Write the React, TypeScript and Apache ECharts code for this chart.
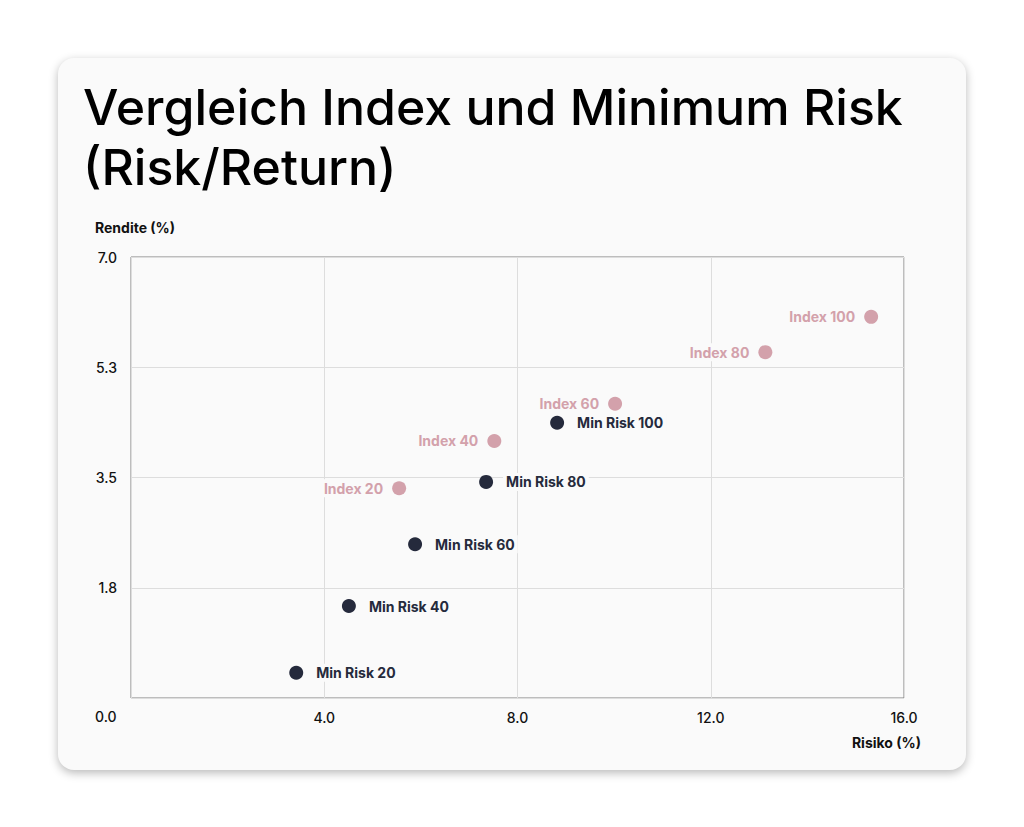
import React, { useEffect, useRef } from "react";
import * as echarts from "echarts";

const titleLines = ["Vergleich Index und Minimum Risk", "(Risk/Return)"];
const xTicks = [0, 4, 8, 12, 16];
const yTicks = [0, 1.75, 3.5, 5.25, 7];
const indexNames = ["Index 20", "Index 40", "Index 60", "Index 80", "Index 100"];
const indexRisk = [5.55, 7.52, 10.02, 13.13, 15.32];
const indexReturn = [3.33, 4.08, 4.67, 5.49, 6.05];
const minNames = ["Min Risk 20", "Min Risk 40", "Min Risk 60", "Min Risk 80", "Min Risk 100"];
const minRisk = [3.42, 4.51, 5.88, 7.35, 8.82];
const minReturn = [0.4, 1.46, 2.44, 3.43, 4.37];

const FONT = "Inter, 'Noto Sans', sans-serif";
const PINK = "#d3a1ab";
const NAVY = "#252a3c";
const CARD = "#fafafa";

export default function App() {
  const ref = useRef<HTMLDivElement>(null);
  useEffect(() => {
    if (!ref.current) return;
    const chart = echarts.init(ref.current, undefined, { renderer: "svg" });
    chart.setOption({
      animation: false,
      textStyle: { fontFamily: FONT },
      title: {
        text: titleLines.join("\n"),
        left: 20,
        top: 14,
        textStyle: {
          fontFamily: FONT,
          fontSize: 50,
          fontWeight: 500,
          lineHeight: 60,
          color: "#000",
        },
      },
      grid: {
        left: 73,
        top: 199,
        right: 62,
        bottom: 72,
        show: true,
        borderColor: "#808080",
        borderWidth: 1,
        backgroundColor: "transparent",
      },
      xAxis: {
        type: "value",
        min: xTicks[0],
        max: xTicks[xTicks.length - 1],
        interval: 4,
        axisLine: { show: false },
        axisTick: { show: false },
        splitLine: { show: true, lineStyle: { color: "#dddddd", width: 1 } },
        axisLabel: {
          margin: 12,
          fontSize: 14,
          fontWeight: 500,
          color: "#111",
          fontFamily: FONT,
          formatter: (v: number) => (v === 0 ? "" : v.toFixed(1)),
        },
      },
      yAxis: {
        type: "value",
        min: yTicks[0],
        max: yTicks[yTicks.length - 1],
        interval: 1.75,
        axisLine: { show: false },
        axisTick: { show: false },
        splitLine: { show: true, lineStyle: { color: "#dddddd", width: 1 } },
        axisLabel: {
          margin: 14,
          fontSize: 14,
          fontWeight: 500,
          color: "#111",
          fontFamily: FONT,
          formatter: (v: number) => (v === 0 ? "" : v.toFixed(1)),
        },
      },
      graphic: [
        {
          type: "text",
          left: 37,
          top: 162,
          style: { text: "Rendite (%)", fontFamily: FONT, fontSize: 14, fontWeight: 700, fill: "#111" },
        },
        {
          type: "text",
          right: 45,
          top: 677,
          style: { text: "Risiko (%)", fontFamily: FONT, fontSize: 14, fontWeight: 700, fill: "#111" },
        },
        {
          type: "text",
          left: 37,
          top: 651,
          style: { text: "0.0", fontFamily: FONT, fontSize: 14, fontWeight: 500, fill: "#111" },
        },
      ],
      series: [
        {
          type: "scatter",
          name: "Index",
          symbolSize: 14,
          itemStyle: { color: PINK, opacity: 1 },
          data: indexRisk.map((x, i) => ({ value: [x, indexReturn[i]], name: indexNames[i] })),
          label: {
            show: true,
            position: "left",
            distance: 6,
            formatter: (p: any) => p.name,
            color: PINK,
            fontFamily: FONT,
            fontSize: 14,
            fontWeight: 700,
            backgroundColor: CARD,
            padding: [2, 3],
          },
        },
        {
          type: "scatter",
          name: "Min Risk",
          symbolSize: 14,
          itemStyle: { color: NAVY, opacity: 1 },
          data: minRisk.map((x, i) => ({ value: [x, minReturn[i]], name: minNames[i] })),
          label: {
            show: true,
            position: "right",
            distance: 10,
            formatter: (p: any) => p.name,
            color: NAVY,
            fontFamily: FONT,
            fontSize: 14,
            fontWeight: 700,
            backgroundColor: CARD,
            padding: [2, 3],
          },
        },
      ],
    });
    return () => chart.dispose();
  }, []);

  return (
    <div style={{ position: "relative", width: 1008, height: 811 }}>
      <div
        style={{
          position: "absolute",
          left: 50,
          top: 50,
          width: 908,
          height: 712,
          background: CARD,
          borderRadius: 16,
          boxShadow: "0 3px 10px rgba(0,0,0,0.28)",
          overflow: "hidden",
        }}
      >
        <div ref={ref} style={{ width: 908, height: 712 }} />
      </div>
    </div>
  );
}
